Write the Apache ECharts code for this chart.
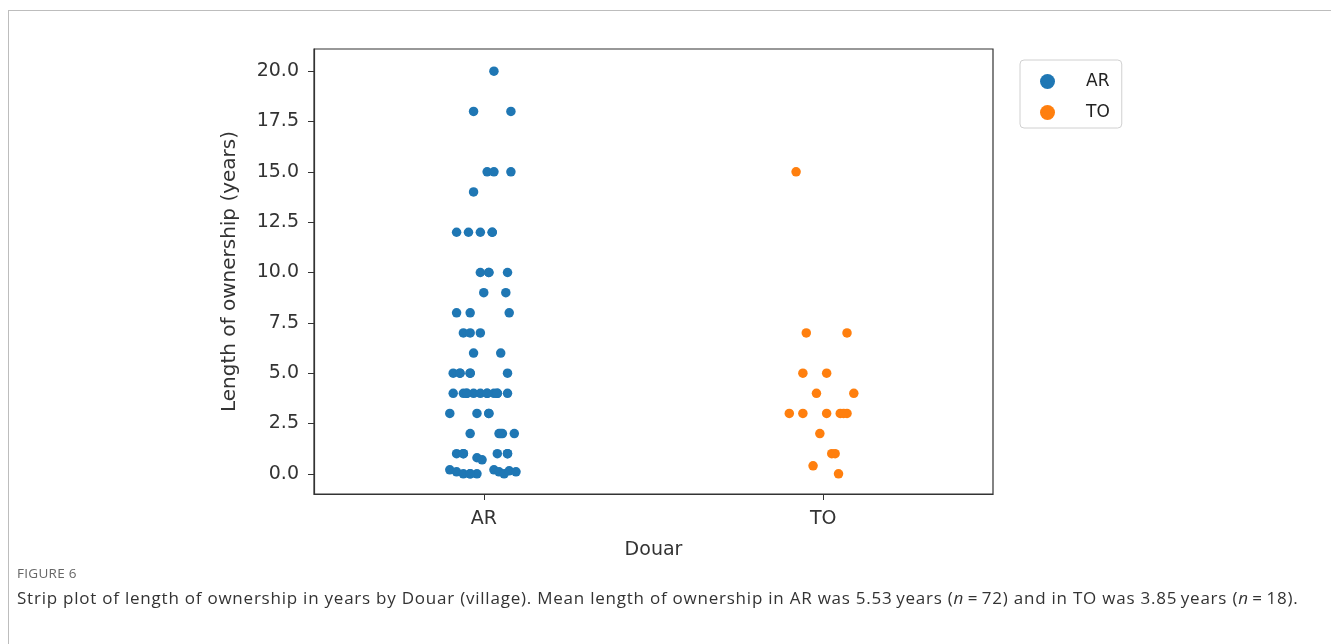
<!DOCTYPE html>
<html>
<head>
<meta charset="utf-8">
<script src="https://cdn.jsdelivr.net/npm/echarts@6/dist/echarts.min.js"></script>
<style>
html,body{margin:0;padding:0;background:#fff;width:1331px;height:644px;overflow:hidden;}
#frame{position:absolute;left:8px;top:10px;width:1323px;height:634px;border-top:1px solid #bdbdbd;border-left:1px solid #bdbdbd;box-sizing:border-box;}
#chart{position:absolute;left:0;top:0;width:1331px;height:644px;}
#fig{position:absolute;left:17px;top:564px;font-family:"Open Sans",sans-serif;font-size:13.5px;color:#666;letter-spacing:0.3px;}
#cap{position:absolute;left:17px;top:586px;font-family:"Open Sans",sans-serif;font-size:17px;letter-spacing:0.77px;color:#333;white-space:nowrap;}
</style>
</head>
<body>
<div id="frame"></div>
<div id="chart"></div>
<div id="fig">FIGURE 6</div>
<div id="cap">Strip plot of length of ownership in years by Douar (village). Mean length of ownership in AR was 5.53&#8201;years (<i>n</i>&#8201;=&#8201;72) and in TO was 3.85&#8201;years (<i>n</i>&#8201;=&#8201;18).</div>
<script>
const categories = ['AR', 'TO'];
const yTicks = [0, 2.5, 5, 7.5, 10, 12.5, 15, 17.5, 20];

// AR: values (years) and jitter offsets (category units)
const arValues = [
  20,
  18, 18,
  15, 15, 15,
  14,
  12, 12, 12, 12,
  10, 10, 10,
  9, 9,
  8, 8, 8,
  7, 7, 7,
  6, 6,
  5, 5, 5, 5,
  4, 4, 4, 4, 4, 4, 4, 4, 4,
  3, 3, 3,
  2, 2, 2, 2,
  1, 1, 1, 1,
  0.8, 0.7,
  0.2, 0.1, 0, 0, 0, 0.2, 0.1, 0, 0.15, 0.1,
  12, 10, 5, 5, 4, 4, 4, 3, 2, 1, 1, 0
];
const arJitter = [
  0.03,
  -0.03, 0.08,
  0.01, 0.03, 0.08,
  -0.03,
  -0.08, -0.045, -0.01, 0.025,
  -0.01, 0.015, 0.07,
  0.0, 0.065,
  -0.08, -0.04, 0.075,
  -0.06, -0.04, -0.01,
  -0.03, 0.05,
  -0.09, -0.07, -0.04, 0.07,
  -0.09, -0.06, -0.05, -0.03, -0.01, 0.01, 0.03, 0.04, 0.07,
  -0.10, -0.02, 0.015,
  -0.04, 0.045, 0.055, 0.09,
  -0.08, -0.06, 0.04, 0.07,
  -0.02, -0.005,
  -0.10, -0.08, -0.06, -0.04, -0.02, 0.03, 0.045, 0.06, 0.075, 0.095,
  0.025, 0.015, -0.07, -0.04, -0.05, 0.01, 0.04, 0.015, 0.05, -0.06, 0.07, -0.04
];

// TO: values and jitter offsets
const toValues = [15, 7, 7, 5, 5, 4, 4, 3, 3, 3, 3, 3, 3, 2, 1, 1, 0.4, 0];
const toJitter = [-0.08, -0.05, 0.07, -0.06, 0.01, -0.02, 0.09, -0.10, -0.06, 0.01, 0.05, 0.07, 0.06, -0.01, 0.025, 0.035, -0.03, 0.045];

const arData = arValues.map((v, i) => [0 + arJitter[i], v]);
const toData = toValues.map((v, i) => [1 + toJitter[i], v]);

const font = '"DejaVu Sans", sans-serif';
const chart = echarts.init(document.getElementById('chart'), null, {renderer: 'canvas'});
chart.setOption({
  animation: false,
  grid: {left: 314, right: 338, top: 49, bottom: 150, show: true, borderColor: '#333', borderWidth: 1.2, containLabel: false},
  xAxis: {
    type: 'value', min: -0.5, max: 1.5,
    name: 'Douar', nameLocation: 'middle', nameGap: 47,
    nameTextStyle: {fontFamily: font, fontSize: 19, color: '#333'},
    axisLine: {show: true, onZero: false, lineStyle: {color: '#333', width: 1.2}},
    axisTick: {show: true, inside: false, length: 6, lineStyle: {color: '#333'}, customValues: [0, 1]},
    axisLabel: {customValues: [0, 1], formatter: v => categories[Math.round(v)], fontFamily: font, fontSize: 19, color: '#333', margin: 16},
    splitLine: {show: false}
  },
  yAxis: {
    type: 'value', min: -1, max: 21.1,
    name: 'Length of ownership (years)', nameLocation: 'middle', nameGap: 74, nameRotate: 90,
    nameTextStyle: {fontFamily: font, fontSize: 20, color: '#333'},
    axisLine: {show: true, onZero: false, lineStyle: {color: '#333', width: 1.2}},
    axisTick: {show: true, inside: false, length: 6, lineStyle: {color: '#333'}, customValues: yTicks},
    axisLabel: {customValues: yTicks, formatter: v => v.toFixed(1), fontFamily: font, fontSize: 19, color: '#333', margin: 15},
    splitLine: {show: false}
  },
  legend: {
    orient: 'vertical', left: 1020, top: 60,
    padding: [13, 12, 7, 20], itemGap: 14,
    itemWidth: 15, itemHeight: 15, icon: 'circle',
    borderColor: '#d0d0d0', borderWidth: 1, borderRadius: 4,
    textStyle: {fontFamily: font, fontSize: 17, color: '#222', padding: [0, 0, 0, 26]},
    data: categories
  },
  series: [
    {name: 'AR', type: 'scatter', data: arData, symbolSize: 9.5, itemStyle: {color: '#1f77b4', opacity: 1}},
    {name: 'TO', type: 'scatter', data: toData, symbolSize: 9.5, itemStyle: {color: '#ff7f0e', opacity: 1}}
  ]
});
</script>
</body>
</html>
